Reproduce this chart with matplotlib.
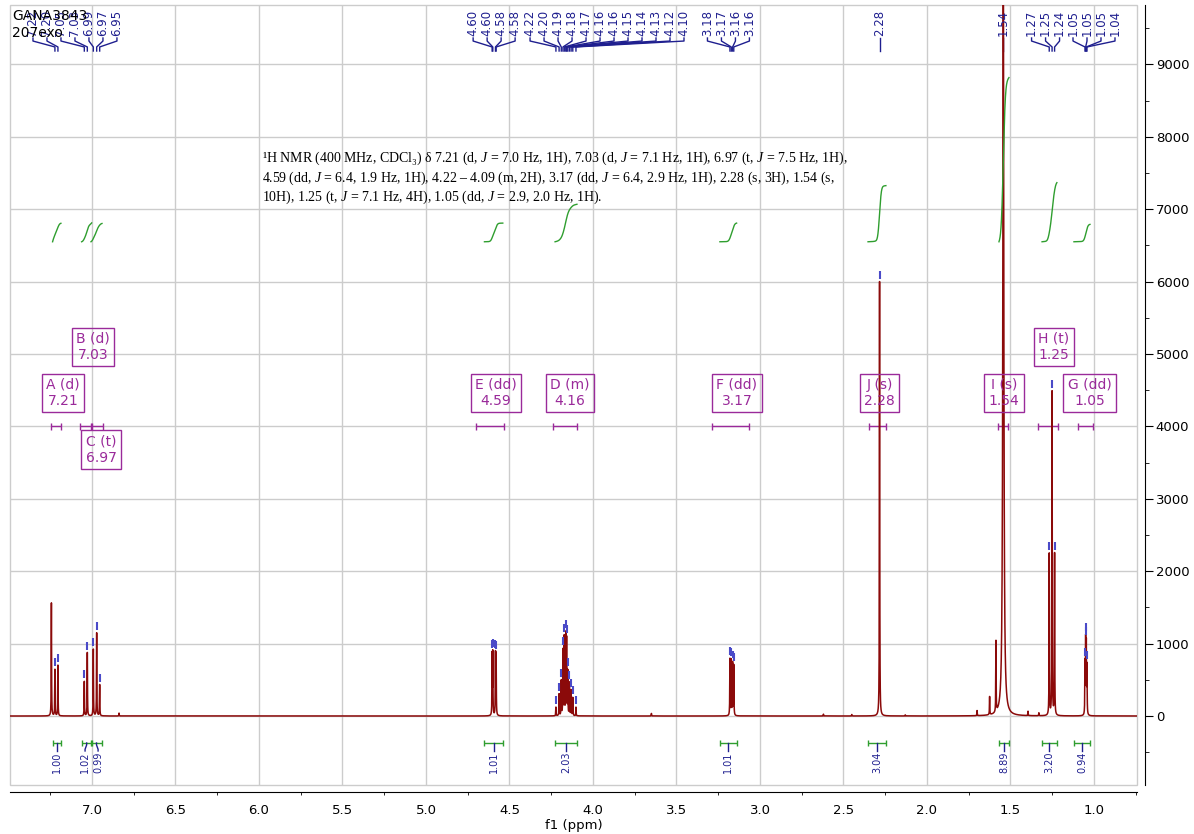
import numpy as np
import matplotlib
matplotlib.use("Agg")
from matplotlib import pyplot as plt
from matplotlib.ticker import MultipleLocator, FormatStrFormatter
from matplotlib.patches import Rectangle

# picked peaks, one list per label group (ppm, height)
grp_ppm = [
    [7.222, 7.204, 7.046, 7.028, 6.992, 6.972, 6.954],
    [4.604, 4.600, 4.584, 4.580],
    [4.222, 4.203, 4.190, 4.180, 4.172, 4.163, 4.158, 4.151, 4.141, 4.131, 4.121, 4.102],
    [3.180, 3.172, 3.164, 3.157],
    [2.284],
    [1.543],
    [1.268, 1.251, 1.236],
    [1.054, 1.050, 1.046, 1.042],
]
grp_height = [
    [640, 700, 475, 875, 920, 1145, 430],
    [830, 850, 840, 820],
    [120, 300, 480, 900, 1080, 1100, 1030, 600, 450, 350, 250, 120],
    [780, 760, 720, 690],
    [6000],
    [10500],
    [2230, 4470, 2230],
    [700, 1000, 950, 650],
]
# unlabelled lines (solvent, impurities)
extra_ppm = [7.243, 6.838, 3.650, 2.620, 2.450, 2.130, 1.700, 1.625, 1.587, 1.395, 1.330]
extra_height = [1560, 40, 35, 25, 20, 15, 70, 250, 980, 60, 40]

# multiplets
mult_name = ['A (d)', 'B (d)', 'C (t)', 'E (dd)', 'D (m)', 'F (dd)', 'J (s)', 'I (s)', 'H (t)', 'G (dd)']
mult_shift = ['7.21', '7.03', '6.97', '4.59', '4.16', '3.17', '2.28', '1.54', '1.25', '1.05']
mult_hi = [7.245, 7.072, 7.000, 4.701, 4.240, 3.287, 2.347, 1.575, 1.335, 1.096]
mult_lo = [7.186, 7.006, 6.934, 4.533, 4.096, 3.066, 2.246, 1.515, 1.216, 1.006]

# integrals
int_hi = [7.236, 7.062, 7.006, 4.650, 4.227, 3.240, 2.353, 1.569, 1.311, 1.120]
int_lo = [7.186, 7.002, 6.940, 4.540, 4.096, 3.140, 2.246, 1.509, 1.222, 1.024]
int_val = [1.00, 1.02, 0.99, 1.01, 2.03, 1.01, 3.04, 8.89, 3.20, 0.94]

report = [
    "¹H NMR (400 MHz, CDCl₃) δ 7.21 (d, $J$ = 7.0 Hz, 1H), 7.03 (d, $J$ = 7.1 Hz, 1H), 6.97 (t, $J$ = 7.5 Hz, 1H),",
    "4.59 (dd, $J$ = 6.4, 1.9 Hz, 1H), 4.22 – 4.09 (m, 2H), 3.17 (dd, $J$ = 6.4, 2.9 Hz, 1H), 2.28 (s, 3H), 1.54 (s,",
    "10H), 1.25 (t, $J$ = 7.1 Hz, 4H), 1.05 (dd, $J$ = 2.9, 2.0 Hz, 1H).",
]

RED = '#8b0a0a'
NAVY = '#1f1f8f'
MARK = '#4a4ac8'
PURPLE = '#9a2a9a'
GREEN = '#2f9e2f'

plt.rcParams['mathtext.fontset'] = 'custom'
plt.rcParams['mathtext.rm'] = 'Liberation Serif'
plt.rcParams['mathtext.it'] = 'Liberation Serif:italic'

fig = plt.figure(figsize=(11.94, 8.34), dpi=100)
ax = fig.add_axes([10 / 1194, 1 - 785 / 834, 1127 / 1194, 780 / 834])
ax.set_xlim(7.491, 0.7425)
ax.set_ylim(-953, 9820)

# spectrum from the line list
all_ppm = sum(grp_ppm, []) + extra_ppm
all_h = sum(grp_height, []) + extra_height
x = np.arange(0.70, 7.55, 0.0002)
y = np.zeros_like(x)
for p, h in zip(all_ppm, all_h):
    w = 0.0035 if p == 1.543 else 0.0011
    y += h * w ** 2 / ((x - p) ** 2 + w ** 2)
ax.plot(x, y, color=RED, lw=1.1, zorder=3)

# peak markers and label trees
lab_center = [7.102, 4.592, 3.916, 3.189, 2.284, 1.543, 1.290, 1.000]
step = 0.0838
xt = ax.get_xaxis_transform()
for g, peaks in enumerate(grp_ppm):
    n = len(peaks)
    for i, p in enumerate(peaks):
        h = np.interp(p, x, y)
        ax.vlines(p, h + 40, h + 150, color=MARK, lw=1.5, zorder=4)
        xl = lab_center[g] + (n - 1) / 2 * step - i * step
        ax.text(xl, 0.9603, '%.2f' % p, transform=xt, rotation=90,
                ha='center', va='bottom', fontsize=8.5, color=NAVY)
        ax.plot([xl, xl, p, p], [0.9577, 0.9538, 0.9462, 0.941],
                transform=xt, color=NAVY, lw=1, clip_on=False)

# multiplet boxes
box_x = [7.174, 6.994, 6.946, 4.581, 4.138, 3.138, 2.284, 1.539, 1.240, 1.027]
box_row = [0, 1, -1, 0, 0, 0, 0, 0, 1, 0]
row_y = {0: 4460, 1: 5097, -1: 3680}
for i in range(len(mult_name)):
    ax.text(box_x[i], row_y[box_row[i]], mult_name[i] + '\n' + mult_shift[i],
            ha='center', va='center', multialignment='center', fontsize=10,
            color=PURPLE, zorder=5,
            bbox=dict(boxstyle='square,pad=0.3', fc='none', ec=PURPLE, lw=1))
    ax.hlines(4000, mult_lo[i], mult_hi[i], color=PURPLE, lw=1)
    ax.vlines([mult_lo[i], mult_hi[i]], 3950, 4050, color=PURPLE, lw=1)

# integrals (on a slightly smoothed trace so the curves come out as S shapes)
k = np.arange(-150, 151)
kern = np.exp(-0.5 * (k / 40.0) ** 2)
ys = np.convolve(y, kern / kern.sum(), mode='same')
unit = 255
base = 6550
for lo, hi, v in zip(int_lo, int_hi, int_val):
    m = (x >= lo) & (x <= hi)
    xs = x[m][::-1]
    cs = np.cumsum(ys[m][::-1])
    cs = cs - cs[0]
    ax.plot(xs, base + cs / cs[-1] * v * unit, color=GREEN, lw=1, zorder=4)
    ax.hlines(-373, lo, hi, color=GREEN, lw=1)
    ax.vlines([lo, hi], -420, -326, color=GREEN, lw=1)

centers = [(lo + hi) / 2 for lo, hi in zip(int_lo, int_hi)]
tx = list(centers)
gap = 0.078
for i in range(len(tx) - 1):
    if tx[i] - tx[i + 1] < gap:
        d = (gap - (tx[i] - tx[i + 1])) / 2
        tx[i] += d
        tx[i + 1] -= d
for c, t, v in zip(centers, tx, int_val):
    ax.plot([c, c, t, t], [-373, -400, -460, -483], color=NAVY, lw=1)
    ax.text(t, -490, '%.2f' % v, rotation=90, ha='center', va='top',
            fontsize=7, color=NAVY)

# axes styling
for s in ['left', 'top']:
    ax.spines[s].set_visible(False)
ax.spines['right'].set_position(('outward', 6))
ax.spines['bottom'].set_position(('outward', 5))
ax.add_patch(Rectangle((0, 0), 1, 1, transform=ax.transAxes, fill=False,
                       ec='#cccccc', lw=1, clip_on=False, zorder=0))
ax.set_axisbelow(True)
ax.grid(True, which='major', color='#cccccc', lw=1)

ax.xaxis.set_major_locator(MultipleLocator(0.5))
ax.xaxis.set_minor_locator(MultipleLocator(0.25))
ax.xaxis.set_major_formatter(FormatStrFormatter('%.1f'))
ax.tick_params(axis='x', which='major', length=0, pad=9, labelsize=9.5)
ax.tick_params(axis='x', which='minor', length=2.5, direction='out')

ax.yaxis.tick_right()
ax.yaxis.set_major_locator(MultipleLocator(1000))
ax.yaxis.set_minor_locator(MultipleLocator(500))
ax.tick_params(axis='y', which='major', length=6, pad=1.5, labelsize=9.5)
ax.tick_params(axis='y', which='minor', length=3)
ax.set_xlabel('f1 (ppm)', fontsize=9.5, labelpad=1)

fig.text(12 / 1194, 1 - 9 / 834, 'GANA3843\n207exo', ha='left', va='top',
         fontsize=10, linespacing=1.3)
for k, line in enumerate(report):
    fig.text(262 / 1194, 1 - (162 + 19.5 * k) / 834, line, ha='left',
             va='baseline', fontsize=10, family=['Liberation Serif', 'DejaVu Serif'])

fig.savefig('out.png', dpi=100)
